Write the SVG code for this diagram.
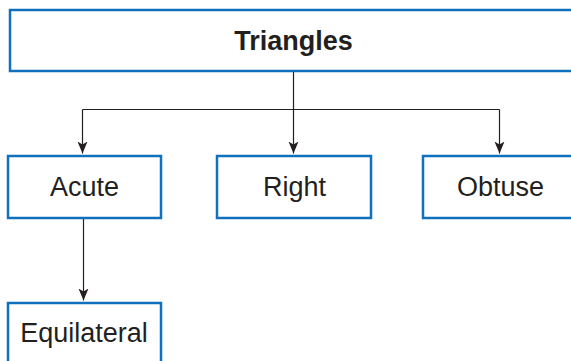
<svg xmlns="http://www.w3.org/2000/svg" width="571" height="361" viewBox="0 0 571 361">
  <style>
    .box { fill: #ffffff; stroke: #0f71bd; stroke-width: 2.5; }
    .label { font-family: "Liberation Sans", Arial, sans-serif; font-size: 27px; fill: #231f20; text-anchor: middle; }
    .title { font-weight: bold; font-size: 27px; }
    .wire { fill: none; stroke: #231f20; stroke-width: 1.2; }
  </style>
  <defs>
    <marker id="arrow" markerUnits="userSpaceOnUse" markerWidth="13" markerHeight="13" viewBox="0 0 13 13" refX="12" refY="6.5" orient="auto">
      <path d="M0,1.5 L12,6.5 L0,11.5 L3,6.5 Z" fill="#231f20"/>
    </marker>
  </defs>

  <rect width="571" height="361" fill="#ffffff"/>

  <g id="connectors">
    <path class="wire" d="M293.5,71 V109.5"/>
    <path class="wire" d="M82.5,109.5 H499.5"/>
    <path class="wire" d="M82.5,109.5 V153.5" marker-end="url(#arrow)"/>
    <path class="wire" d="M293.5,109.5 V153.5" marker-end="url(#arrow)"/>
    <path class="wire" d="M499.5,109.5 V153.5" marker-end="url(#arrow)"/>
    <path class="wire" d="M83.5,218 V300.5" marker-end="url(#arrow)"/>
  </g>

  <g id="triangles">
    <rect class="box" x="10" y="10" width="572" height="61"/>
    <text class="label title" x="293.5" y="49.5">Triangles</text>
  </g>

  <g id="acute">
    <rect class="box" x="8" y="156" width="153" height="62"/>
    <text class="label" x="84.5" y="196">Acute</text>
  </g>

  <g id="right">
    <rect class="box" x="217" y="156" width="154" height="62"/>
    <text class="label" x="294.5" y="196">Right</text>
  </g>

  <g id="obtuse">
    <rect class="box" x="423" y="156" width="154" height="62"/>
    <text class="label" x="500.5" y="196">Obtuse</text>
  </g>

  <g id="equilateral">
    <rect class="box" x="8" y="303" width="153" height="70"/>
    <text class="label" x="84" y="342">Equilateral</text>
  </g>
</svg>
